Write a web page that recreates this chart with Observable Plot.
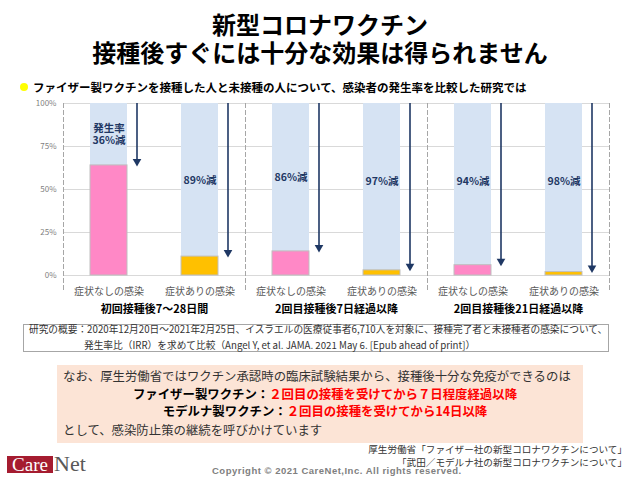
<!DOCTYPE html>
<html><head><meta charset="utf-8">
<script src="https://cdn.jsdelivr.net/npm/d3@7"></script>
<script src="https://cdn.jsdelivr.net/npm/@observablehq/plot@0.6"></script>
<style>
body{margin:0;width:640px;height:480px;position:relative;background:#fff;font-family:"Noto Sans CJK JP",sans-serif;overflow:hidden;color:#000}
.abs{position:absolute;white-space:nowrap}
#title{top:10px;left:0;width:640px;text-align:center;font-weight:bold;font-size:24px;line-height:28px}
#dot{left:20px;top:83px;width:8px;height:8px;border-radius:50%;background:#ffff00}
#sub{left:33px;top:78px;font-size:11.5px;font-weight:bold;line-height:18px}
#chart{left:0;top:95px}
#sumbox{left:23px;top:324px;width:584px;height:26px;border:1px solid #a6a6a6}
#sumtext{left:29px;top:321px;font-size:9.7px;line-height:16px;color:#333}
#peach{left:57px;top:365px;width:526px;height:78px;background:#fce4d6}
.pl{font-size:12.4px;line-height:18px;color:#333}
.red{color:#ff0000}
#src{right:13px;top:443px;font-size:9.6px;line-height:13px;color:#333;text-align:right}
#logo1{left:7px;top:456px;width:46px;height:17px;background:#a51c30;color:#fff;font-family:"Liberation Serif",serif;font-size:19px;line-height:17px;text-align:center}
#logo2{left:54px;top:453px;font-family:"Liberation Serif",serif;font-size:22px;line-height:22px;color:#595959}
#copy{left:212px;top:465px;font-family:"Liberation Sans",sans-serif;font-weight:bold;font-size:9.5px;letter-spacing:0.5px;line-height:12px;color:#808080}
</style></head>
<body>
<div id="title" class="abs">新型コロナワクチン<br>接種後すぐには十分な効果は得られません</div>
<div id="dot" class="abs"></div>
<div id="sub" class="abs">ファイザー製ワクチンを接種した人と未接種の人について、感染者の発生率を比較した研究では</div>
<div id="chart" class="abs"></div>
<div id="sumbox" class="abs"></div>
<div id="sumtext" class="abs">研究の概要：2020年12月20日～2021年2月25日、イスラエルの医療従事者6,710人を対象に、接種完了者と未接種者の感染について、<br><span style="padding-left:55px">発生率比（IRR）を求めて比較（Angel Y, et al. JAMA. 2021 May 6. [Epub ahead of print]）</span></div>
<div id="peach" class="abs"></div>
<div class="abs pl" style="left:63px;top:367px">なお、厚生労働省ではワクチン承認時の臨床試験結果から、接種後十分な免疫ができるのは</div>
<div class="abs pl" style="left:57px;width:536px;top:385px;text-align:center;font-weight:bold;color:#000">ファイザー製ワクチン：<span class="red">２回目の接種を受けてから７日程度経過以降</span></div>
<div class="abs pl" style="left:57px;width:536px;top:402px;text-align:center;font-weight:bold;color:#000">モデルナ製ワクチン：<span class="red">２回目の接種を受けてから14日以降</span></div>
<div class="abs pl" style="left:63px;top:421px">として、感染防止策の継続を呼びかけています</div>
<div id="src" class="abs">厚生労働省「ファイザー社の新型コロナワクチンについて」<br>「武田／モデルナ社の新型コロナワクチンについて」</div>
<div id="logo1" class="abs">Care</div>
<div id="logo2" class="abs">Net</div>
<div id="copy" class="abs">Copyright © 2021 CareNet,Inc. All rights reserved.</div>
<script>
const groups = ["初回接種後7～28日間", "2回目接種後7日経過以降", "2回目接種後21日経過以降"];
const types = ["症状なしの感染", "症状ありの感染"];
const rates = [0.64, 0.11, 0.14, 0.03, 0.06, 0.02];
const reductions = [36, 89, 86, 97, 94, 98];
const yTicks = [0, 0.25, 0.5, 0.75, 1];
const yTickLabels = ["0%", "25%", "50%", "75%", "100%"];
const barColors = ["#ff88c6", "#ffc000"];

const data = rates.map((v, i) => ({
  group: groups[Math.floor(i / 2)],
  type: types[i % 2],
  value: v,
  reduction: reductions[i],
  first: i === 0
}));

const navy = "#1f3864";
const chart = Plot.plot({
  width: 640, height: 225,
  marginTop: 8, marginBottom: 45, marginLeft: 62, marginRight: 30,
  style: {fontFamily: "'Noto Sans CJK JP', sans-serif", background: "transparent", overflow: "visible"},
  fx: {domain: groups, padding: 0, axis: null},
  x: {domain: types, paddingInner: 0.595, paddingOuter: 0.2975, axis: null},
  y: {domain: [0, 1], axis: null},
  color: {domain: types, range: barColors},
  marks: [
    Plot.gridY(yTicks, {stroke: "#d9d9d9", strokeOpacity: 1}),
    Plot.frame({anchor: "left", stroke: "#a6a6a6", strokeDasharray: "4,3", insetBottom: -16}),
    Plot.frame({anchor: "right", stroke: "#a6a6a6", strokeDasharray: "4,3", insetBottom: -16}),
    Plot.barY(data, {fx: "group", x: "type", y1: 0, y2: () => 1, fill: "#d6e3f3"}),
    Plot.barY(data, {fx: "group", x: "type", y1: 0, y2: "value", fill: "type", stroke: "#bfbfbf"}),
    Plot.ruleX(data, {fx: "group", x: "type", y1: () => 1, y2: "value", dx: 28, stroke: navy, strokeWidth: 1.6, insetBottom: 4}),
    Plot.dot(data, {fx: "group", x: "type", y: "value", dx: 28, dy: -4, symbol: "triangle", rotate: 180, r: 3.2, fill: navy}),
    Plot.text(data, {fx: "group", x: "type", y: d => Math.max(0.55, (d.value + 1) / 2),
      text: d => d.first ? `発生率\n${d.reduction}%減` : `${d.reduction}%減`,
      fill: navy, fontWeight: "bold", fontSize: 10.5, lineHeight: 1.15}),
    Plot.axisY(yTicks, {tickSize: 0, tickPadding: 7, tickFormat: d => yTickLabels[yTicks.indexOf(d)], fontSize: 8, fill: "#7f7f7f", label: null}),
    Plot.axisX({tickSize: 0, tickPadding: 12, fontSize: 10, fill: "#595959", label: null}),
    Plot.text(groups, {fx: d => d, text: d => d, frameAnchor: "bottom", dy: 37, fontWeight: "bold", fontSize: 11, fill: "#000"})
  ]
});
document.getElementById("chart").appendChild(chart);
</script>
</body></html>
